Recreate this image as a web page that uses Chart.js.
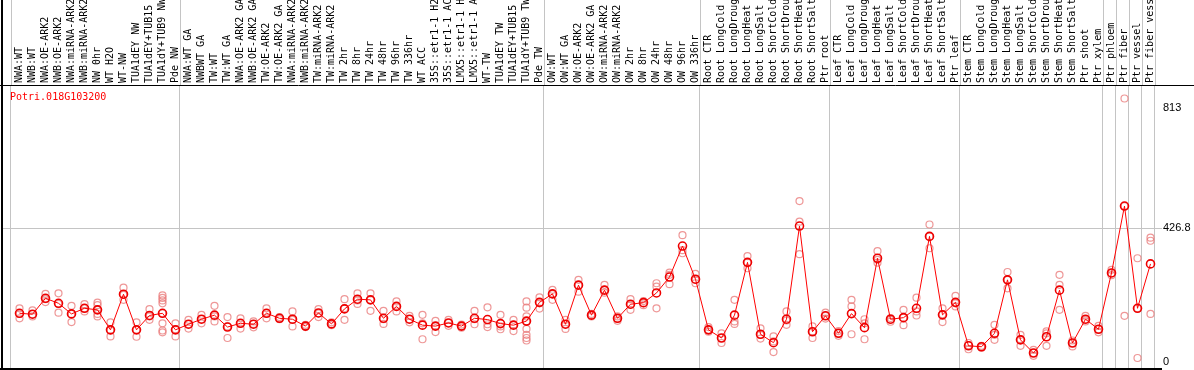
<!DOCTYPE html>
<html>
<head>
<meta charset="utf-8">
<script src="https://cdn.jsdelivr.net/npm/chart.js@4.4.1/dist/chart.umd.min.js"></script>
<style>
  html, body { margin: 0; padding: 0; background: #fff; }
</style>
</head>
<body>
<canvas id="chart" width="1194" height="370"></canvas>
<script>
/* ---------- data ---------- */

const geneName = "Potri.018G103200";

const categories = [
  "NWA:WT", "NWB:WT", "NWA:OE-ARK2", "NWB:OE-ARK2", "NWA:miRNA-ARK2", "NWB:miRNA-ARK2",
  "NW 0hr", "WT H2O", "WT-NW", "TUA1dEY NW", "TUA1dEY+TUB15 NW", "TUA1dY+TUB9 NW", "Pde NW",
  "NWA:WT GA", "NWBWT GA", "TW:WT", "TW:WT GA", "NWA:OE-ARK2 GA", "NWB:OE-ARK2 GA",
  "TW:OE-ARK2", "TW:OE-ARK2 GA", "NWA:miRNA-ARK2 GA", "NWB:miRNA-ARK2 GA", "TW:miRNA-ARK2",
  "TW:miRNA-ARK2 GA", "TW 2hr", "TW 8hr", "TW 24hr", "TW 48hr", "TW 96hr", "TW 336hr",
  "WT ACC", "35S::etr1-1 H2O", "35S::etr1-1 ACC", "LMX5::etr1-1 H2O", "LMX5::etr1-1 ACC",
  "WT-TW", "TUA1dEY TW", "TUA1dEY+TUB15 TW", "TUA1dY+TUB9 TW", "Pde TW",
  "OW:WT", "OW:WT GA", "OW:OE-ARK2", "OW:OE-ARK2 GA", "OW:miRNA-ARK2", "OW:miRNA-ARK2 GA",
  "OW 2hr", "OW 8hr", "OW 24hr", "OW 48hr", "OW 96hr", "OW 336hr",
  "Root CTR", "Root LongCold", "Root LongDrought", "Root LongHeat", "Root LongSalt",
  "Root ShortCold", "Root ShortDrought", "Root ShortHeat", "Root ShortSalt", "Ptr root",
  "Leaf CTR", "Leaf LongCold", "Leaf LongDrought", "Leaf LongHeat", "Leaf LongSalt",
  "Leaf ShortCold", "Leaf ShortDrought", "Leaf ShortHeat", "Leaf ShortSalt", "Ptr leaf",
  "Stem CTR", "Stem LongCold", "Stem LongDrought", "Stem LongHeat", "Stem LongSalt",
  "Stem ShortCold", "Stem ShortDrought", "Stem ShortHeat", "Stem ShortSalt", "Ptr shoot",
  "Ptr xylem", "Ptr phloem", "Ptr fiber", "Ptr vessel", "Ptr fiber vessel"
];

// index of the first sample of each group (last entry = end)
const groupStarts = [0, 13, 41, 53, 63, 73, 84, 85, 86, 87, 88];

const meanValues = [
  155, 152, 203, 187, 153, 171, 166, 102, 216, 102, 148, 155, 102,
  120, 136, 149, 111, 123, 120, 155, 139, 136, 114, 156, 121, 169, 200, 198, 139, 177,
  136, 117, 114, 124, 114, 139, 135, 122, 117, 130, 190,
  217, 120, 245, 149, 229, 139, 184, 189, 220, 271, 370, 264,
  102, 76, 149, 318, 88, 61, 136, 434, 96, 147,
  91, 154, 109, 331, 136, 141, 171, 401, 150, 190,
  51, 48, 91, 262, 70, 28, 80, 229, 60, 136, 104,
  284, 498, 171, 313
];

const replicateValues = [
  [171, 153, 139], [164, 152, 145], [217, 200, 191], [219, 185, 157], [179, 153, 127],
  [184, 171, 161], [189, 181, 166, 153, 145], [126, 100, 81], [237, 214, 198], [126, 102, 80],
  [168, 145, 134], [212, 204, 196, 187, 155, 123, 100, 94], [123, 104, 81],
  [134, 120, 106], [150, 136, 123], [179, 145, 129], [143, 113, 76], [139, 123, 106],
  [129, 121, 110], [171, 155, 139], [143, 139, 136], [161, 134, 113], [118, 114, 111],
  [168, 155, 143], [126, 121, 117], [200, 171, 134], [219, 196, 185], [219, 198, 163],
  [163, 136, 121], [193, 177, 161], [147, 136, 126], [150, 123, 72], [131, 114, 95],
  [134, 124, 115], [119, 114, 109], [163, 136, 120], [174, 120, 111], [150, 113, 104],
  [134, 118, 98], [193, 173, 145, 129, 105, 86, 76, 68], [206, 187, 170],
  [230, 216, 198], [134, 120, 105], [262, 245, 224], [153, 149, 145], [246, 230, 221],
  [145, 138, 131], [200, 182, 166], [194, 187, 181], [251, 240, 171], [285, 278, 248],
  [405, 357, 347], [281, 262, 251],
  [111, 102, 96], [91, 76, 60], [198, 129, 121], [338, 317, 299], [107, 86, 74],
  [81, 65, 31], [161, 132, 118], [514, 448, 344], [113, 97, 76], [157, 147, 138],
  [98, 91, 83], [198, 177, 88], [136, 123, 72], [354, 326, 317], [140, 134, 128],
  [166, 141, 117], [205, 161, 148], [439, 401, 363], [171, 152, 127], [211, 187, 177],
  [60, 53, 40], [51, 48, 45], [118, 86, 70], [287, 262, 235], [86, 72, 51],
  [38, 28, 19], [97, 91, 51], [278, 246, 166], [68, 60, 49], [147, 134, 129], [115, 104, 94],
  [294, 283, 277], [842, 498, 147], [331, 171, 12], [397, 387, 153]
];

const yTickValues = [0, 426.8, 813];
const yGridValue = 426.8;

/* ---------- layout / style ---------- */

const headerHeight = 86;
const yAxisWidth = 32;
const xMin = -1.346, xMax = 87.885;   // 13px per sample, first sample at x=19.5
const boundaryShift = -0.654;         // group lines sit 8.5px left of the sample
const yMin = -20, yMax = 882;
const monoFont = "DejaVu Sans Mono";
const gridGrey = "#c4c4c4";

const meanPoints = meanValues.map((v, i) => ({ x: i, y: v }));
const repPoints = [];
replicateValues.forEach((reps, i) => reps.forEach(v => repPoints.push({ x: i, y: v })));

// group separators carried up through the label header, plus the frame and gene name
const framePlugin = {
  id: "frame",
  beforeDatasetsDraw(chart) {
    const { ctx, chartArea } = chart;
    const xg = chart.scales.xg;
    ctx.save();
    ctx.strokeStyle = gridGrey;
    ctx.lineWidth = 1;
    ctx.beginPath();
    xg.ticks.forEach(t => {
      const px = Math.round(xg.getPixelForValue(t.value)) + 0.5;
      ctx.moveTo(px, 0);
      ctx.lineTo(px, chartArea.top);
    });
    ctx.stroke();
    ctx.restore();
  },
  afterDraw(chart) {
    const { ctx, chartArea, width, height } = chart;
    ctx.save();
    ctx.strokeStyle = "#000";
    ctx.lineWidth = 2;
    ctx.beginPath();
    ctx.moveTo(2, 0); ctx.lineTo(2, height);
    ctx.moveTo(0, chartArea.bottom + 1); ctx.lineTo(chartArea.right, chartArea.bottom + 1);
    ctx.stroke();
    ctx.lineWidth = 1;
    ctx.beginPath();
    ctx.moveTo(0, chartArea.top - 0.5); ctx.lineTo(width, chartArea.top - 0.5);
    ctx.stroke();
    ctx.fillStyle = "#ff0000";
    ctx.font = "10px '" + monoFont + "'";
    ctx.textBaseline = "alphabetic";
    ctx.fillText(geneName, chartArea.left + 8, chartArea.top + 14);
    ctx.restore();
  }
};

function fixBox(h) {
  return scale => {
    scale.height = h;
    scale.paddingLeft = 0;
    scale.paddingRight = 0;
  };
}

new Chart(document.getElementById("chart"), {
  type: "line",
  data: {
    datasets: [
      {
        label: "mean",
        data: meanPoints,
        borderColor: "#ff0000",
        borderWidth: 1,
        pointRadius: 4,
        pointBorderWidth: 1.6,
        pointBorderColor: "#ee0000",
        pointBackgroundColor: "rgba(0,0,0,0)",
        fill: false,
        tension: 0,
        order: 1
      },
      {
        label: "replicates",
        data: repPoints,
        showLine: false,
        pointRadius: 3.5,
        pointBorderWidth: 1.2,
        pointBorderColor: "rgba(234,125,125,0.8)",
        pointBackgroundColor: "rgba(0,0,0,0)",
        order: 2
      }
    ]
  },
  options: {
    responsive: false,
    animation: false,
    devicePixelRatio: 1,
    layout: { autoPadding: false, padding: { top: 0, left: 2, right: 0, bottom: 2 } },
    plugins: { legend: { display: false }, tooltip: { enabled: false } },
    scales: {
      x: {
        type: "linear",
        position: "top",
        min: xMin,
        max: xMax,
        weight: 1,
        afterBuildTicks: s => { s.ticks = categories.map((c, i) => ({ value: i })); },
        afterFit: fixBox(headerHeight),
        ticks: {
          autoSkip: false,
          minRotation: 90,
          maxRotation: 90,
          padding: 3,
          color: "#000",
          // lineHeight 0 keeps the rotated labels centred on their sample
          font: { family: monoFont, size: 10, lineHeight: 0 },
          callback: v => categories[v]
        },
        grid: { display: false, drawTicks: false },
        border: { display: false }
      },
      xg: {
        type: "linear",
        axis: "x",
        position: "top",
        min: xMin,
        max: xMax,
        weight: 0,
        afterBuildTicks: s => { s.ticks = groupStarts.map(k => ({ value: k + boundaryShift })); },
        afterFit: fixBox(0),
        ticks: { display: false },
        grid: { color: gridGrey, lineWidth: 1, drawTicks: false },
        border: { display: false }
      },
      y: {
        type: "linear",
        position: "right",
        min: yMin,
        max: yMax,
        afterBuildTicks: s => { s.ticks = yTickValues.map(v => ({ value: v })); },
        afterFit: s => { s.width = yAxisWidth; s.paddingTop = 0; s.paddingBottom = 0; },
        ticks: {
          padding: 1,
          color: "#000",
          font: { family: "Liberation Sans", size: 11 },
          callback: v => String(v)
        },
        grid: {
          drawTicks: false,
          color: c => (c.tick && c.tick.value === yGridValue) ? gridGrey : "rgba(0,0,0,0)"
        },
        border: { display: false }
      }
    }
  },
  plugins: [framePlugin]
});
</script>
</body>
</html>
